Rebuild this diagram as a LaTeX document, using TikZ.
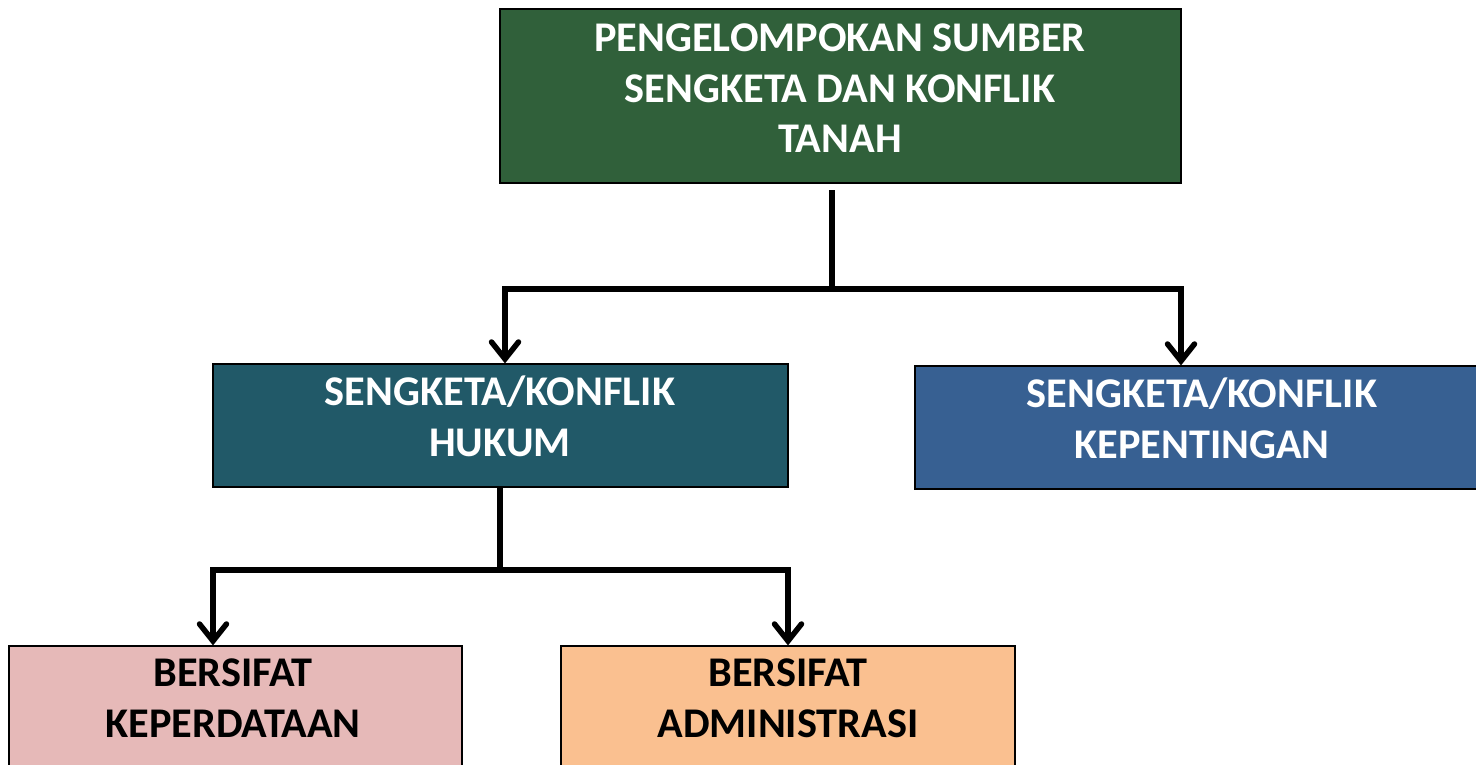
\documentclass[tikz,border=0pt]{standalone}
\usepackage{fontspec}
\setmainfont{Carlito}
\usetikzlibrary{arrows.meta}
\definecolor{cTop}{HTML}{30603A}
\definecolor{cHukum}{HTML}{215968}
\definecolor{cKep}{HTML}{376092}
\definecolor{cPer}{HTML}{E6B9B8}
\definecolor{cAdm}{HTML}{FAC090}
\tikzset{
  box/.style={draw=black, line width=1.2pt, rectangle, inner sep=0pt},
  lbl/.style={anchor=north, inner sep=0pt, align=center,
    font=\fontsize{42.3}{50.5}\selectfont\bfseries},
  conn/.style={line width=5.5pt, line cap=butt, line join=miter},
  arr/.style={conn, -{Straight Barb[length=17pt,width=27pt,line cap=round]}}
}
\begin{document}
\begin{tikzpicture}[x=1pt,y=-1pt]
\useasboundingbox (0,0) rectangle (1476,764);
% boxes
\node[box, fill=cTop, minimum width=681pt, minimum height=174pt] (top) at (840.5,96) {};
\node[box, fill=cHukum, minimum width=575pt, minimum height=123pt] (ml) at (500.5,425.5) {};
\node[box, fill=cKep, minimum width=575pt, minimum height=123pt] (mr) at (1202.5,427.5) {};
\node[box, fill=cPer, minimum width=453pt, minimum height=123pt] (bl) at (235.5,707.5) {};
\node[box, fill=cAdm, minimum width=454pt, minimum height=123pt] (bm) at (788,707.5) {};
% labels
\node[lbl, text=white] (topT) at (840,24) {PENGELOMPOKAN SUMBER\\SENGKETA DAN KONFLIK\\TANAH};
\node[lbl, text=white] (mlT) at (500,376) {SENGKETA/KONFLIK\\HUKUM};
\node[lbl, text=white] (mrT) at (1202,378) {SENGKETA/KONFLIK\\KEPENTINGAN};
\node[lbl, text=black] (blT) at (233,659) {BERSIFAT\\KEPERDATAAN};
\node[lbl, text=black] (bmT) at (788,659) {BERSIFAT\\ADMINISTRASI};
% connectors level 1
\coordinate (t0) at (832,190);
\coordinate (j1) at (832,289);
\coordinate (a1) at (505,289);
\coordinate (a2) at (1181,289);
\draw[conn] (t0) -- (j1);
\draw[arr] (j1) -- (a1) -- (a1 |- ml.north);
\draw[arr] (j1) -- (a2) -- (a2 |- mr.north);
% connectors level 2
\coordinate (j2) at (500,570);
\coordinate (b1) at (213,570);
\coordinate (b2) at (788,570);
\draw[conn] (ml.south -| j2) -- (j2);
\draw[arr] (j2) -- (b1) -- (b1 |- bl.north);
\draw[arr] (j2) -- (b2) -- (b2 |- bm.north);
\end{tikzpicture}
\end{document}
